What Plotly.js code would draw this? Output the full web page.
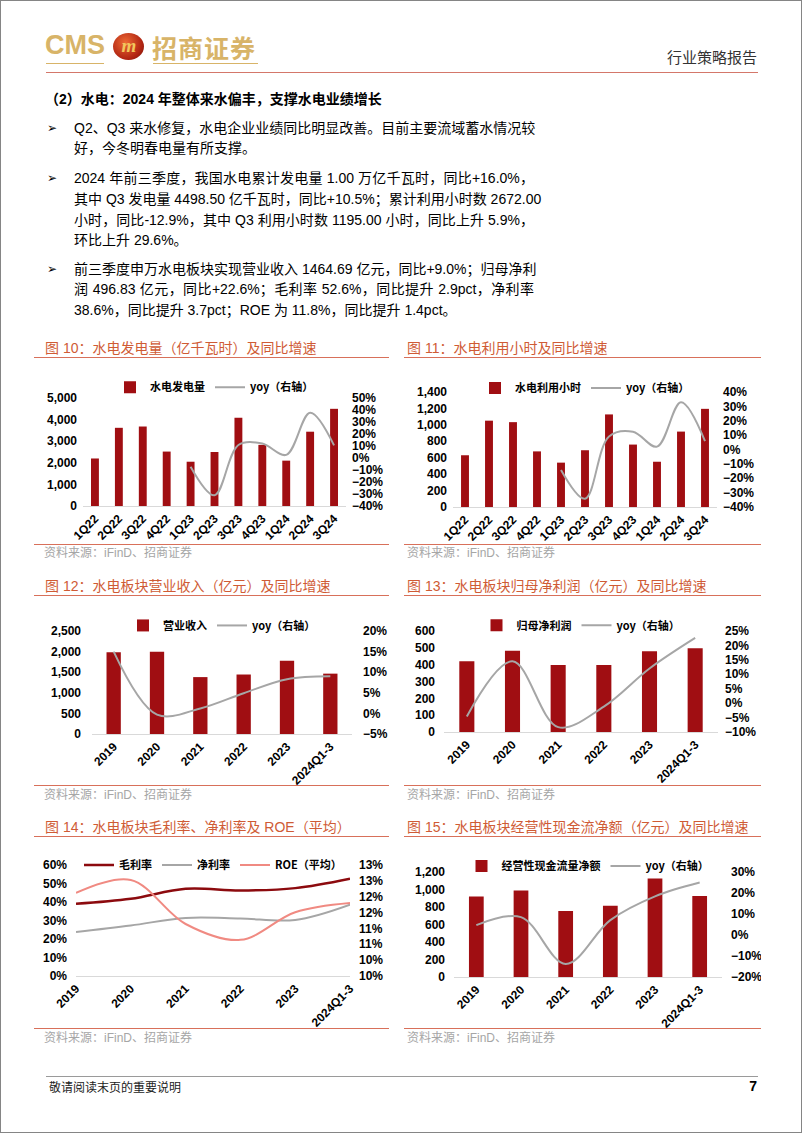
<!DOCTYPE html>
<html>
<head>
<meta charset="utf-8">
<script src="https://cdn.plot.ly/plotly-3.0.1.min.js"></script>
<style>
  html, body { margin:0; padding:0; background:#fff; }
  #page { position:relative; width:802px; height:1133px; box-sizing:border-box; border:1px solid #858585; overflow:hidden; background:#fff;
          font-family:"Liberation Sans","Noto Sans CJK SC",sans-serif; color:#000; }
  .abs { position:absolute; white-space:nowrap; }
  .ln { position:absolute; left:73px; width:460px; height:20px; line-height:20px; font-size:14px; white-space:nowrap; overflow:visible; }
  .full { text-align:justify; text-align-last:justify; }
  .bul { position:absolute; left:46px; font-size:12px; height:20px; line-height:20px; font-family:"DejaVu Sans",sans-serif; }
  .ftitle { position:absolute; height:20px; line-height:20px; font-size:14px; color:#cf5b35; font-family:"Liberation Sans","Noto Sans CJK SC",sans-serif; white-space:nowrap; }
  .uline { position:absolute; height:0; border-top:1.5px solid #d8705a; }
  .src { position:absolute; height:16px; line-height:16px; font-size:12px; color:#a6a6a6; white-space:nowrap; }
  .chart { position:absolute; }
</style>
</head>
<body>
<div id="page">
  <!-- header -->
  <div class="abs" style="left:44px;top:29px;font-size:27px;font-weight:bold;color:#d8b468;line-height:30px;font-family:'Liberation Sans',sans-serif;">CMS</div>
  <div class="abs" style="left:112px;top:32px;width:31px;height:27px;border-radius:50%;background:radial-gradient(circle at 40% 35%,#ee6a34,#b02412 65%,#6e1208);"></div>
  <div class="abs" style="left:116px;top:33px;width:24px;text-align:center;font-size:19px;font-style:italic;font-weight:bold;color:#f2c75c;line-height:24px;font-family:'Liberation Serif',serif;">m</div>
  <div class="abs" style="left:151px;top:30px;font-size:25px;font-weight:bold;color:#d8b468;line-height:32px;font-family:'Noto Sans CJK SC',sans-serif;letter-spacing:1px;">招商证券</div>
  <div class="abs" style="left:45px;top:62px;width:58px;height:0;border-top:1.5px solid #d8b468;"></div>
  <div class="abs" style="left:152px;top:62px;width:105px;height:0;border-top:1.5px solid #d8b468;"></div>
  <div class="abs" style="left:45px;top:71px;width:712px;height:0;border-top:1px solid #d4776a;"></div>
  <div class="abs" style="right:44px;top:46px;font-size:15px;color:#333;line-height:20px;font-family:'Noto Sans CJK SC',sans-serif;">行业策略报告</div>

  <!-- heading & bullets -->
  <div class="abs" style="left:44px;top:88px;font-size:14px;font-weight:bold;line-height:20px;">（2）水电：2024 年整体来水偏丰，支撑水电业绩增长</div>

  <div class="bul" style="top:117px;">➢</div>
  <div class="ln full" style="top:117px;">Q2、Q3 来水修复，水电企业业绩同比明显改善。目前主要流域蓄水情况较</div>
  <div class="ln" style="top:137px;">好，今冬明春电量有所支撑。</div>

  <div class="bul" style="top:167px;">➢</div>
  <div class="ln full" style="top:167px;">2024 年前三季度，我国水电累计发电量 1.00 万亿千瓦时，同比+16.0%，</div>
  <div class="ln full" style="top:188px;">其中 Q3 发电量 4498.50 亿千瓦时，同比+10.5%；累计利用小时数 2672.00</div>
  <div class="ln full" style="top:208.5px;">小时，同比-12.9%，其中 Q3 利用小时数 1195.00 小时，同比上升 5.9%，</div>
  <div class="ln" style="top:229px;">环比上升 29.6%。</div>

  <div class="bul" style="top:258px;">➢</div>
  <div class="ln full" style="top:258px;">前三季度申万水电板块实现营业收入 1464.69 亿元，同比+9.0%；归母净利</div>
  <div class="ln full" style="top:278px;">润 496.83 亿元，同比+22.6%；毛利率 52.6%，同比提升 2.9pct，净利率</div>
  <div class="ln" style="top:299px;">38.6%，同比提升 3.7pct；ROE 为 11.8%，同比提升 1.4pct。</div>

  <!-- figure titles / rules / sources -->
  <div class="ftitle" style="left:44px;top:337px;">图 10：水电发电量（亿千瓦时）及同比增速</div>
  <div class="ftitle" style="left:406px;top:337px;">图 11：水电利用小时及同比增速</div>
  <div class="uline" style="left:33px;top:356px;width:355px;"></div>
  <div class="uline" style="left:403px;top:356px;width:357px;"></div>
  <div class="uline" style="left:33px;top:542.5px;width:355px;"></div>
  <div class="uline" style="left:403px;top:542.5px;width:357px;"></div>
  <div class="src" style="left:43px;top:544px;">资料来源：iFinD、招商证券</div>
  <div class="src" style="left:406px;top:544px;">资料来源：iFinD、招商证券</div>

  <div class="ftitle" style="left:44px;top:575px;">图 12：水电板块营业收入（亿元）及同比增速</div>
  <div class="ftitle" style="left:406px;top:575px;">图 13：水电板块归母净利润（亿元）及同比增速</div>
  <div class="uline" style="left:33px;top:594px;width:355px;"></div>
  <div class="uline" style="left:403px;top:594px;width:357px;"></div>
  <div class="uline" style="left:33px;top:784px;width:355px;"></div>
  <div class="uline" style="left:403px;top:784px;width:357px;"></div>
  <div class="src" style="left:43px;top:786px;">资料来源：iFinD、招商证券</div>
  <div class="src" style="left:406px;top:786px;">资料来源：iFinD、招商证券</div>

  <div class="ftitle" style="left:44px;top:816px;">图 14：水电板块毛利率、净利率及 ROE（平均）</div>
  <div class="ftitle" style="left:406px;top:816px;">图 15：水电板块经营性现金流净额（亿元）及同比增速</div>
  <div class="uline" style="left:33px;top:835px;width:355px;"></div>
  <div class="uline" style="left:403px;top:835px;width:357px;"></div>
  <div class="uline" style="left:33px;top:1026.5px;width:355px;"></div>
  <div class="uline" style="left:403px;top:1026.5px;width:357px;"></div>
  <div class="src" style="left:43px;top:1028.5px;">资料来源：iFinD、招商证券</div>
  <div class="src" style="left:406px;top:1028.5px;">资料来源：iFinD、招商证券</div>

  <!-- charts (transparent, extra bottom room for rotated labels) -->
  <div id="c10" class="chart" style="left:35px;top:360px;width:355px;height:200px;"></div>
  <div id="c11" class="chart" style="left:403px;top:360px;width:357px;height:200px;"></div>
  <div id="c12" class="chart" style="left:35px;top:598px;width:355px;height:205px;"></div>
  <div id="c13" class="chart" style="left:403px;top:598px;width:357px;height:205px;"></div>
  <div id="c14" class="chart" style="left:35px;top:838px;width:355px;height:207px;"></div>
  <div id="c15" class="chart" style="left:403px;top:838px;width:357px;height:207px;"></div>

  <!-- footer -->
  <div class="abs" style="left:45px;top:1075px;width:712px;height:0;border-top:1px solid #9a9a9a;"></div>
  <div class="abs" style="left:48px;top:1078px;font-size:12px;line-height:16px;color:#222;font-family:'Noto Sans CJK SC',sans-serif;">敬请阅读末页的重要说明</div>
  <div class="abs" style="right:44px;top:1077px;font-size:14px;font-weight:bold;line-height:16px;">7</div>
</div>

<script>
// ---------------- data ----------------
const quarters = ['1Q22','2Q22','3Q22','4Q22','1Q23','2Q23','3Q23','4Q23','1Q24','2Q24','3Q24'];
const yoyQuarters = ['1Q23','2Q23','3Q23','4Q23','1Q24','2Q24','3Q24'];
const hydroGen = [2200, 3620, 3680, 2520, 2050, 2500, 4080, 2830, 2100, 3440, 4499];
const hydroGenYoy = [-7.2, -31.0, 10.8, 12.0, 2.6, 37.7, 10.5];
const hydroHours = [630, 1051, 1033, 677, 540, 691, 1127, 760, 551, 918, 1195];
const hydroHoursYoy = [-14.3, -34.3, 9.1, 12.3, 2.0, 32.9, 5.9];

const years = ['2019','2020','2021','2022','2023','2024Q1-3'];
const revenue = [1983, 1997, 1381, 1444, 1777, 1465];
const revenueYoy = [15.0, -0.3, 1.2, 4.9, 8.3, 9.0];
const netProfit = [421, 482, 398, 398, 480, 497];
const netProfitYoy = [-4.6, 14.5, -8.3, -1.2, 12.0, 22.6];
const grossMargin = [39.0, 41.7, 47.1, 46.2, 47.5, 52.6];
const netMargin = [23.8, 27.3, 31.4, 31.1, 30.3, 38.6];
const roeAvg = [12.12, 12.53, 11.14, 10.64, 11.51, 11.8];
const roeTickVals = [9.5, 10, 10.5, 11, 11.5, 12, 12.5, 13];
const roeTickText = ['10%','10%','11%','11%','12%','12%','13%','13%'];
const opCashFlow = [919, 990, 753, 814, 1125, 925];
const opCashFlowYoy = [4.7, 8.5, -13.8, 7.1, 18.4, 25.0];

// ---------------- styling helpers ----------------
const BAR = '#a00e12';
const GRAY = '#a6a6a6';
const tickFont = {family:'Liberation Sans, Arial, sans-serif', size:12, color:'#000', weight:'bold'};
const legFont = {family:'Noto Sans CJK SC, Liberation Sans, sans-serif', size:11, color:'#000', weight:'bold'};
const cfg = {staticPlot:true, displayModeBar:false};
const EXTRA = 20;

function baseLayout(w, h, m, legY) {
  return {
    width:w, height:h + EXTRA, margin:{l:m.l, r:m.r, t:m.t, b:m.b + EXTRA},
    paper_bgcolor:'rgba(0,0,0,0)', plot_bgcolor:'rgba(0,0,0,0)',
    showlegend:true,
    legend:{orientation:'h', x:0.5, xanchor:'center', y:legY, yanchor:'middle', font:legFont,
            bgcolor:'rgba(0,0,0,0)', itemwidth:30, traceorder:'normal'},
    bargap:0.67,
    xaxis:{type:'category', tickangle:-45, showline:true, linecolor:'#d9d9d9', linewidth:1,
           ticks:'', showgrid:false, zeroline:false, tickfont:tickFont, automargin:false, fixedrange:true},
  };
}
function leftAxis(range, dtick, extra) {
  return Object.assign({range:range, dtick:dtick, tick0:range[0], tickmode:'linear', showgrid:false, zeroline:false,
          showline:false, ticks:'', tickfont:tickFont, tickformat:',d', automargin:false, ticklabelstandoff:5}, extra||{});
}
function rightAxis(range, dtick, extra) {
  return Object.assign({range:range, dtick:dtick, tick0:range[0], tickmode:'linear', overlaying:'y', side:'right',
          showgrid:false, zeroline:false, showline:false, ticks:'', tickfont:tickFont, ticksuffix:'%',
          automargin:false, ticklabelstandoff:5}, extra||{});
}
function barTrace(x, y, name) {
  return {type:'bar', x:x, y:y, name:name, marker:{color:BAR}, yaxis:'y', hoverinfo:'skip'};
}
function lineTrace(x, y, name, color, width, axis) {
  return {type:'scatter', mode:'lines', x:x, y:y, name:name, yaxis:axis||'y2',
          line:{color:color, width:width, shape:'spline', smoothing:1}, hoverinfo:'skip'};
}

// Fig 10
(function(){
  const L = baseLayout(355, 180, {l:47, r:45, t:23, b:35}, 1.10);
  L.yaxis = leftAxis([0,5000], 1000);
  L.yaxis2 = rightAxis([-40,50], 10);
  Plotly.newPlot('c10', [barTrace(quarters, hydroGen, '水电发电量'),
                         lineTrace(yoyQuarters, hydroGenYoy, 'yoy（右轴）', GRAY, 2)], L, cfg);
})();

// Fig 11
(function(){
  const L = baseLayout(357, 180, {l:49, r:44, t:16, b:34}, 1.035);
  L.yaxis = leftAxis([0,1400], 200);
  L.yaxis2 = rightAxis([-40,40], 10);
  Plotly.newPlot('c11', [barTrace(quarters, hydroHours, '水电利用小时'),
                         lineTrace(yoyQuarters, hydroHoursYoy, 'yoy（右轴）', GRAY, 2)], L, cfg);
})();

// Fig 12
(function(){
  const L = baseLayout(355, 185, {l:56, r:39, t:18, b:50}, 1.054);
  L.yaxis = leftAxis([0,2500], 500, {ticklabelstandoff:10});
  L.yaxis2 = rightAxis([-5,20], 5, {ticklabelstandoff:10});
  Plotly.newPlot('c12', [barTrace(years, revenue, '营业收入'),
                         lineTrace(years, revenueYoy, 'yoy（右轴）', GRAY, 2)], L, cfg);
})();

// Fig 13
(function(){
  const L = baseLayout(357, 185, {l:40, r:43, t:18, b:52}, 1.056);
  L.yaxis = leftAxis([0,600], 100, {ticklabelstandoff:8});
  L.yaxis2 = rightAxis([-10,25], 5, {ticklabelstandoff:6});
  Plotly.newPlot('c13', [barTrace(years, netProfit, '归母净利润'),
                         lineTrace(years, netProfitYoy, 'yoy（右轴）', GRAY, 2)], L, cfg);
})();

// Fig 14
(function(){
  const L = baseLayout(355, 187, {l:40, r:41, t:11, b:50}, 1.0);
  L.yaxis = leftAxis([0,60], 10, {ticksuffix:'%', tickformat:'d', ticklabelstandoff:8});
  L.yaxis2 = {range:[9.5,13], tickmode:'array', tickvals:roeTickVals, ticktext:roeTickText, overlaying:'y', side:'right',
              showgrid:false, zeroline:false, showline:false, ticks:'', tickfont:tickFont, automargin:false, ticklabelstandoff:8};
  Plotly.newPlot('c14', [lineTrace(years, grossMargin, '毛利率', '#8c0a0e', 2.5, 'y'),
                         lineTrace(years, netMargin, '净利率', GRAY, 2, 'y'),
                         lineTrace(years, roeAvg, 'ROE（平均）', '#f08a82', 2, 'y2')], L, cfg);
})();

// Fig 15
(function(){
  const L = baseLayout(357, 187, {l:50, r:39, t:20, b:49}, 1.057);
  L.yaxis = leftAxis([0,1200], 200, {ticklabelstandoff:8});
  L.yaxis2 = rightAxis([-20,30], 10, {ticklabelstandoff:8});
  Plotly.newPlot('c15', [barTrace(years, opCashFlow, '经营性现金流量净额'),
                         lineTrace(years, opCashFlowYoy, 'yoy（右轴）', GRAY, 2)], L, cfg);
})();
</script>
</body>
</html>
